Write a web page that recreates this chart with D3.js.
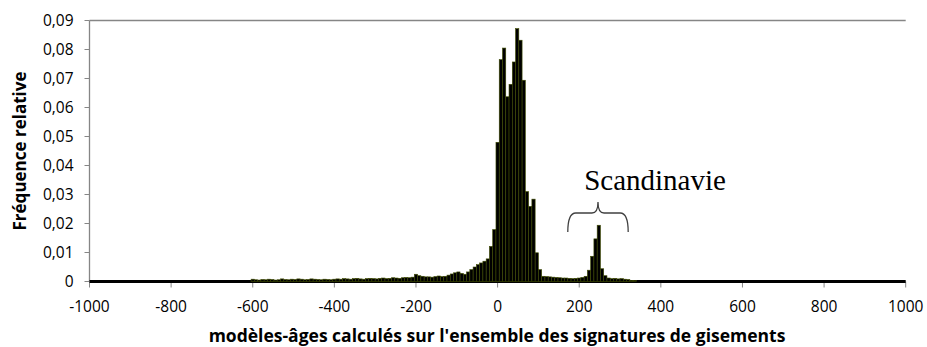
<!DOCTYPE html>
<html><head><meta charset="utf-8">
<script src="https://cdn.jsdelivr.net/npm/d3@7"></script>
<style>body{margin:0;background:#fff}svg{display:block}</style>
</head><body>
<svg id="c" width="927" height="347"></svg>
<script>
// ---- data ----
const binWidth = 8;
const binCenters = d3.range(-600, 481, 8); // category: bin centres
const freqA = [ // -600 .. -208
 0.0008,0.0006,0.0005,0.0007,0.0006,0.0008,0.0007,0.0005,0.0006,0.0009,
 0.0007,0.0006,0.0008,0.0007,0.0009,0.0008,0.0006,0.0007,0.0009,0.0008,
 0.0007,0.0006,0.0008,0.0007,0.0006,0.0008,0.0009,0.0008,0.0010,0.0009,
 0.0008,0.0010,0.0011,0.0009,0.0008,0.0010,0.0011,0.0010,0.0009,0.0011,
 0.0012,0.0010,0.0011,0.0013,0.0012,0.0011,0.0013,0.0014,0.0013,0.0015];
const freqB = [ // -200 .. -120
 0.0025,0.0020,0.0018,0.0016,0.0016,0.0015,0.0017,0.0019,0.0017,0.0018,0.0022];
const freqC = [ // -112 .. -32
 0.0026,0.0030,0.0033,0.0028,0.0025,0.0033,0.0041,0.0050,0.0058,0.0064,0.0070];
const freqD = [ // -24 .. 112
 0.0078,0.0121,0.0179,0.0480,0.0765,0.0805,0.0637,0.0680,0.0757,0.0872,
 0.0832,0.0694,0.0310,0.0259,0.0284,0.0099,0.0041,0.0018];
const freqE = [ // 120 .. 216
 0.0017,0.0016,0.0015,0.0014,0.0013,0.0012,0.0012,0.0011,0.0010,0.0011,0.0012,0.0014,0.0018];
const freqF = [ // 224 .. 264 (Scandinavie)
 0.0039,0.0087,0.0147,0.0194,0.0044,0.0020];
const freqG = [ // 272 .. 320
 0.0012,0.0010,0.0011,0.0009,0.0010,0.0008,0.0007];
const freqH = [ // 328 .. 480
 0.0004,0.0003,0,0,0,0,0,0,0,0,0,0,0,0,0,0,0,0,0,0];
const frequencies = [].concat(freqA,freqB,freqC,freqD,freqE,freqF,freqG,freqH);

const xTicks = [-1000,-800,-600,-400,-200,0,200,400,600,800,1000];
const yTicks = [0,0.01,0.02,0.03,0.04,0.05,0.06,0.07,0.08,0.09];
const xTitle = "modèles-âges calculés sur l'ensemble des signatures de gisements";
const yTitle = "Fréquence relative";
const annotation = "Scandinavie";
const annotRange = [172, 320];

// ---- chart ----
const svg = d3.select("#c");
const x = d3.scaleLinear().domain([-1000,1000]).range([89.5,905.7]);
const y = d3.scaleLinear().domain([0,0.09]).range([281.5,20.5]);
const fmt = v => v===0 ? "0" : d3.format(".2f")(v).replace(".", ",");
const font = "'Open Sans','Liberation Sans',sans-serif";

// top border
svg.append("line").attr("x1",x(-1000)).attr("x2",x(1000)).attr("y1",y(0.09)).attr("y2",y(0.09))
  .attr("stroke","#868686").attr("stroke-width",1.3);
// y axis
svg.append("line").attr("x1",x(-1000)).attr("x2",x(-1000)).attr("y1",y(0)).attr("y2",y(0.09))
  .attr("stroke","#868686").attr("stroke-width",1.3);
const yg = svg.append("g");
yTicks.forEach(t=>{
  yg.append("line").attr("x1",x(-1000)-5).attr("x2",x(-1000)).attr("y1",y(t)).attr("y2",y(t))
    .attr("stroke","#868686").attr("stroke-width",1);
  yg.append("text").attr("x",x(-1000)-16).attr("y",y(t)).attr("dy","0.36em")
    .attr("text-anchor","end").attr("font-family",font).attr("font-size",15.5).attr("fill","#000").text(fmt(t));
});
// x ticks
const xg = svg.append("g");
xTicks.forEach(t=>{
  xg.append("line").attr("x1",x(t)).attr("x2",x(t)).attr("y1",y(0)).attr("y2",y(0)+6)
    .attr("stroke","#868686").attr("stroke-width",1);
  xg.append("text").attr("x",x(t)).attr("y",312)
    .attr("text-anchor","middle").attr("font-family",font).attr("font-size",15.5).attr("fill","#000").text(t);
});
// axis line (thick black)
svg.append("line").attr("x1",x(-1000)).attr("x2",x(1000)).attr("y1",y(0)).attr("y2",y(0))
  .attr("stroke","#000").attr("stroke-width",3);

// bars
svg.append("g").selectAll("rect")
  .data(binCenters.map((c,i)=>({c, v: frequencies[i]})).filter(d=>d.v>0))
  .join("rect")
  .attr("x", d=>x(d.c - binWidth/2))
  .attr("width", d=>x(d.c + binWidth/2) - x(d.c - binWidth/2))
  .attr("y", d=>y(d.v))
  .attr("height", d=>y(0)-y(d.v))
  .attr("fill","#000")
  .attr("stroke","#3f4c00")
  .attr("stroke-width",0.6);

// annotation brace
const bx0 = x(annotRange[0]), bx1 = x(annotRange[1]), bm = (bx0+bx1)/2;
const yb = 232, yh = 213, yt = 202;
const p = d3.path();
p.moveTo(bx0, yb);
p.quadraticCurveTo(bx0, yh, bx0+8, yh);
p.lineTo(bm-6, yh);
p.quadraticCurveTo(bm, yh, bm, yt);
p.quadraticCurveTo(bm, yh, bm+6, yh);
p.lineTo(bx1-8, yh);
p.quadraticCurveTo(bx1, yh, bx1, yb);
svg.append("path").attr("d", p.toString()).attr("fill","none").attr("stroke","#404040").attr("stroke-width",1.3);
svg.append("text").attr("x", 655).attr("y", 190).attr("text-anchor","middle")
  .attr("font-family","'Liberation Serif','Times New Roman',serif").attr("font-size",29).attr("fill","#000").text(annotation);

// titles
svg.append("text").attr("x", 497).attr("y", 342).attr("text-anchor","middle")
  .attr("font-family",font).attr("font-weight","bold").attr("font-size",17.5).attr("fill","#000").text(xTitle);
svg.append("text").attr("transform","translate(26,151) rotate(-90)").attr("text-anchor","middle")
  .attr("font-family",font).attr("font-weight","bold").attr("font-size",17).attr("fill","#000").text(yTitle);
</script>
</body></html>
